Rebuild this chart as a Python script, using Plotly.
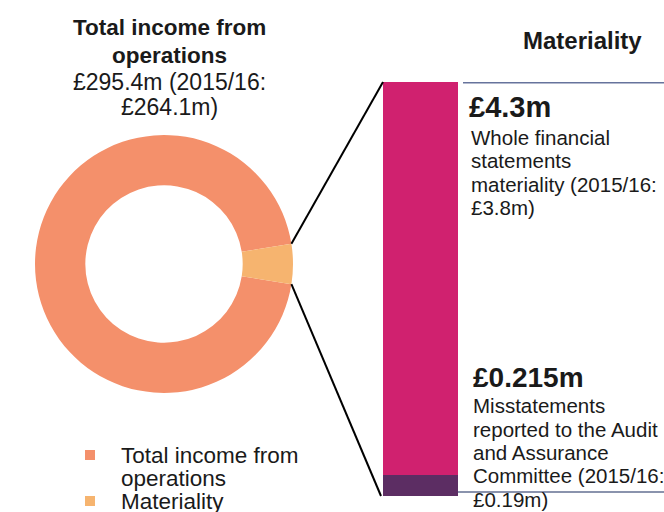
import math
import plotly.graph_objects as go

W, H = 664, 512

# Donut: share of the ring given to each segment
ring_labels = ["Total income from operations", "Materiality"]
ring_values = [95, 5]
ring_colors = ["#f4906b", "#f6b46f"]

# Materiality bar (£m)
bar_names = ["Misstatements reported", "Whole financial statements materiality"]
materiality_total = 4.3
misstatements = 0.215
bar_values = [misstatements, materiality_total - misstatements]
bar_colors = ["#5c2d63", "#d0216f"]

title_lines = ["<b>Total income from</b>", "<b>operations</b>",
               "£295.4m (2015/16:", "£264.1m)"]
upper_lines = ["Whole financial", "statements", "materiality (2015/16:", "£3.8m)"]
lower_lines = ["Misstatements", "reported to the Audit", "and Assurance",
               "Committee (2015/16:", "£0.19m)"]
legend_lines = [["Total income from", "operations"], ["Materiality"]]

FONT = "Liberation Sans, Arial, sans-serif"


def px(x):
    return x / W


def py(y):
    return (H - y) / H


# donut geometry in pixels
cx, cy, r = 164, 264, 129
hole = 0.61
# bar geometry in pixels
bx0, bx1, by_top, by_bot = 383, 458, 82, 496

mat_span = ring_values[1] / sum(ring_values) * 360
rotation = 90 + mat_span / 2

fig = go.Figure()
fig.add_trace(go.Pie(
    labels=ring_labels, values=ring_values, hole=hole, sort=False,
    direction="clockwise", rotation=rotation,
    marker=dict(colors=ring_colors, line=dict(width=0)),
    textinfo="none", hoverinfo="skip", showlegend=False,
    domain=dict(x=[px(cx - r), px(cx + r)], y=[py(cy + r), py(cy - r)]),
))

for name, val, col in zip(bar_names, bar_values, bar_colors):
    fig.add_trace(go.Bar(
        x=[0], y=[val], name=name, marker=dict(color=col, line=dict(width=0)),
        width=1, xaxis="x", yaxis="y", hoverinfo="skip", showlegend=False,
    ))

fig.update_layout(
    width=W, height=H, margin=dict(l=0, r=0, t=0, b=0),
    paper_bgcolor="white", plot_bgcolor="rgba(0,0,0,0)",
    barmode="stack", bargap=0,
    xaxis=dict(domain=[px(bx0), px(bx1)], range=[-0.5, 0.5], visible=False,
               fixedrange=True),
    yaxis=dict(domain=[py(by_bot), py(by_top)], range=[0, materiality_total],
               visible=False, fixedrange=True),
    font=dict(family=FONT, color="#1a1a1a"),
)

# leader lines from the materiality slice to the bar
a1 = math.radians(rotation - mat_span)
a2 = math.radians(rotation)
p_top = (cx + r * math.sin(a1), cy - r * math.cos(a1))
p_bot = (cx + r * math.sin(a2), cy - r * math.cos(a2))
for (sx, sy), (ex, ey) in [(p_top, (bx0, by_top)), (p_bot, (bx0 - 2, by_bot))]:
    fig.add_shape(type="line", xref="paper", yref="paper",
                  x0=px(sx), y0=py(sy), x1=px(ex), y1=py(ey),
                  line=dict(color="black", width=2))

# reference rules at the top and bottom of the bar
fig.add_shape(type="line", xref="paper", yref="y", x0=px(463), x1=1,
              y0=materiality_total, y1=materiality_total,
              line=dict(color="#66739c", width=3))
fig.add_shape(type="line", xref="paper", yref="paper", x0=px(bx1), x1=1,
              y0=py(492), y1=py(492), line=dict(color="#8a93ad", width=2))


def text(s, x, y, size, anchor="left"):
    fig.add_annotation(text=s, x=px(x), y=py(y), xref="paper", yref="paper",
                       xanchor=anchor, yanchor="middle", showarrow=False,
                       font=dict(size=size, family=FONT, color="#1a1a1a"))


for s, y, size in zip(title_lines, [27, 55, 82, 107], [22.5, 22.5, 23, 23]):
    text(s, 169, y, size, "center")

text("<b>Materiality</b>", 582, 40, 24, "center")

text(f"<b>£{materiality_total:g}m</b>", 467, 107, 29)
for s, y in zip(upper_lines, [137, 160, 184, 207]):
    text(s, 469, y, 20.5)

text(f"<b>£{misstatements:g}m</b>", 471, 377, 28)
for s, y in zip(lower_lines, [405, 429, 452, 475, 499]):
    text(s, 471, y, 20.5)

# legend
leg_y = [[455, 478], [501]]
for lines, ys, col in zip(legend_lines, leg_y, ring_colors):
    fig.add_shape(type="rect", xref="paper", yref="paper",
                  x0=px(85), x1=px(95), y0=py(ys[0] + 5), y1=py(ys[0] - 5),
                  fillcolor=col, line=dict(width=0))
    for s, y in zip(lines, ys):
        text(s, 119, y, 22.5)

fig.write_html("out.html")
